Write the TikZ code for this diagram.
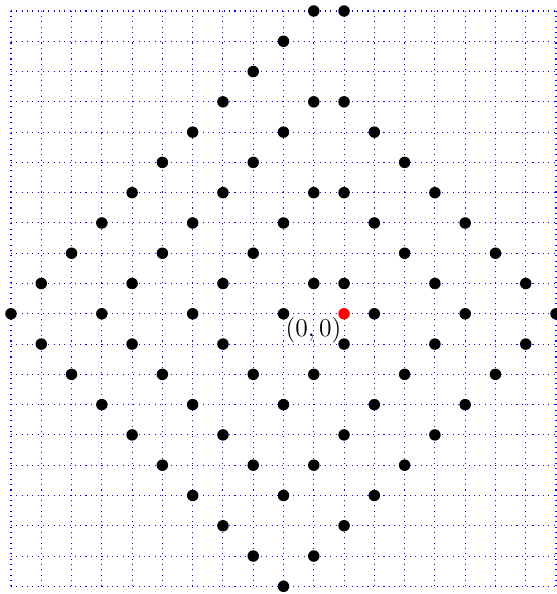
\documentclass[tikz,border=0pt]{standalone}
\begin{document}
\begin{tikzpicture}[x=0.5cm,y=0.5cm,
  gridline/.style={blue,dotted,line width=0.5pt},
  dot/.style={circle,fill=black,draw=none,inner sep=0pt,minimum size=5.4pt},
  origindot/.style={dot,fill=red},
  coordlabel/.style={anchor=north east,inner sep=0pt,font=\fontsize{12}{14}\selectfont}]
\useasboundingbox (-11.363,-9.254) rectangle (7,10.363);
\draw[gridline,step=0.5cm] (-11,-9) grid (7,10);
\foreach \x/\y in {
  -1/10,0/10,
  -2/9,
  -3/8,
  -4/7,-1/7,0/7,
  -5/6,-2/6,1/6,
  -6/5,-3/5,2/5,
  -7/4,-4/4,-1/4,0/4,3/4,
  -8/3,-5/3,-2/3,1/3,4/3,
  -9/2,-6/2,-3/2,2/2,5/2,
  -10/1,-7/1,-4/1,-1/1,0/1,3/1,6/1,
  -11/0,-8/0,-5/0,-2/0,1/0,4/0,7/0,
  -10/-1,-7/-1,-4/-1,0/-1,3/-1,6/-1,
  -9/-2,-6/-2,-3/-2,-1/-2,2/-2,5/-2,
  -8/-3,-5/-3,-2/-3,1/-3,4/-3,
  -7/-4,-4/-4,0/-4,3/-4,
  -6/-5,-3/-5,-1/-5,2/-5,
  -5/-6,-2/-6,1/-6,
  -4/-7,0/-7,
  -3/-8,-1/-8,
  -2/-9}
  \node[dot] (d\x x\y) at (\x,\y) {};
\node[origindot] (o) at (0,0) {};
\node[coordlabel] (lbl) at ([xshift=-1.1pt,yshift=-1.7pt]o.center) {$(0,0)$};
\end{tikzpicture}
\end{document}
